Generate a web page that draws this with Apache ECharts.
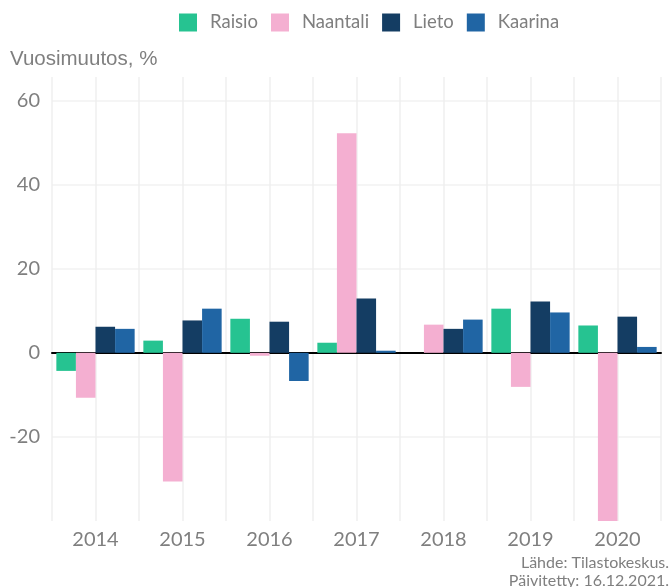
<!DOCTYPE html>
<html>
<head>
<meta charset="utf-8">
<script src="https://cdn.jsdelivr.net/npm/echarts@6/dist/echarts.min.js"></script>
<style>
  html, body { margin: 0; padding: 0; background: #fff; }
  #main { width: 670px; height: 587px; }
</style>
</head>
<body>
<div id="main"></div>
<script>
var years = ['2014', '2015', '2016', '2017', '2018', '2019', '2020'];
var raisio = [-4.3, 2.9, 8.1, 2.4, 0, 10.5, 6.5];
var naantali = [-10.7, -30.6, -0.7, 52.2, 6.7, -8.1, -40];
var lieto = [6.2, 7.7, 7.4, 12.9, 5.7, 12.2, 8.6];
var kaarina = [5.7, 10.5, -6.7, 0.5, 7.9, 9.6, 1.4];
var yTicks = [-20, 0, 20, 40, 60];

var grey = '#7f7f7f';
var myChart = echarts.init(document.getElementById('main'));

var option = {
    animation: false,
    color: ['#26c391', '#f4afd1', '#143d63', '#2065a4'],
    legend: {
        left: 174,
        top: 8,
        itemWidth: 18,
        itemHeight: 18,
        itemGap: 13,
        icon: 'rect',
        textStyle: { color: grey, fontFamily: 'Lato', fontSize: 18.5, padding: [0, 0, 0, 8] }
    },
    title: [
        {
            text: 'Vuosimuutos, %',
            left: 10, top: 49, padding: 0,
            textStyle: { color: grey, fontFamily: 'Liberation Sans', fontWeight: 'normal', fontSize: 20.5 }
        },
        {
            text: 'Lähde: Tilastokeskus.',
            right: 1, top: 555, padding: 0,
            textStyle: { color: grey, fontFamily: 'Lato', fontWeight: 'normal', fontSize: 16 }
        },
        {
            text: 'Päivitetty: 16.12.2021.',
            right: 1, top: 573, padding: 0,
            textStyle: { color: grey, fontFamily: 'Lato', fontWeight: 'normal', fontSize: 16 }
        }
    ],
    grid: { left: 52, right: 9, top: 77, bottom: 66 },
    xAxis: [
        {
            type: 'category',
            data: years,
            axisTick: { show: false },
            axisLine: { onZero: true, lineStyle: { color: '#000', width: 2 } },
            axisLabel: { color: grey, fontFamily: 'Lato', fontSize: 20, margin: 9 },
            splitLine: { show: false }
        },
        {
            type: 'value',
            position: 'bottom',
            min: 0, max: 7, interval: 0.5,
            axisLine: { show: false },
            axisTick: { show: false },
            axisLabel: { show: false },
            splitLine: { show: true, lineStyle: { color: '#efefef', width: 1.5 } }
        }
    ],
    yAxis: {
        type: 'value',
        min: -40, max: 65.6, interval: 20,
        axisLine: { show: false },
        axisTick: { show: false },
        axisLabel: {
            color: grey, fontFamily: 'Lato', fontSize: 20, margin: 12,
            showMaxLabel: false,
            formatter: function (v) { return yTicks.indexOf(v) >= 0 ? String(v) : ''; }
        },
        splitLine: { showMinLine: false, showMaxLine: false, lineStyle: { color: '#f2f2f2', width: 1.5 } }
    },
    series: [
        { name: 'Raisio', type: 'bar', data: raisio, barGap: '0%', barCategoryGap: '10%', z: 3 },
        { name: 'Naantali', type: 'bar', data: naantali, barGap: '0%', barCategoryGap: '10%', z: 3 },
        { name: 'Lieto', type: 'bar', data: lieto, barGap: '0%', barCategoryGap: '10%', z: 3 },
        { name: 'Kaarina', type: 'bar', data: kaarina, barGap: '0%', barCategoryGap: '10%', z: 3 }
    ]
};
myChart.setOption(option);
</script>
</body>
</html>
